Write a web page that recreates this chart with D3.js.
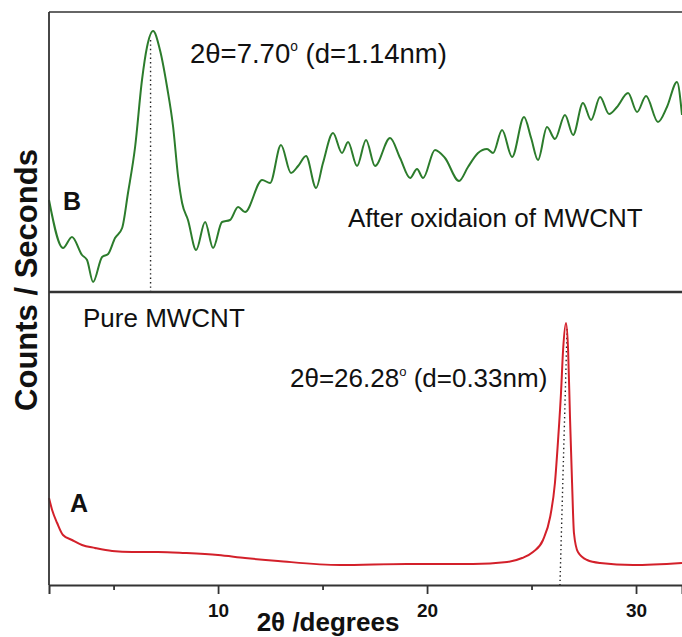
<!DOCTYPE html>
<html>
<head>
<meta charset="utf-8">
<script src="https://cdn.jsdelivr.net/npm/d3@7"></script>
<style>
  body { margin: 0; background: #fff; }
  text { font-family: "Liberation Sans", Arial, sans-serif; fill: #111; }
</style>
</head>
<body>
<div id="chart"></div>
<script>
// trace B : after oxidation (upper panel)
var thetaB = [1.91,2.58,3.01,3.49,3.73,4.02,4.45,4.74,5.07,5.41,5.69,6.03,6.36,6.60,6.89,7.22,7.56,7.85,8.09,8.28,
  8.56,8.95,9.38,9.76,10.19,10.57,10.96,11.29,12.11,12.49,13.01,13.49,13.83,14.21,14.69,15.02,15.50,15.93,16.22,16.65,
  17.08,17.51,18.23,18.71,19.19,19.52,19.81,20.38,20.86,21.53,21.96,22.44,22.87,23.16,23.59,24.07,24.64,24.98,25.31,25.74,
  26.12,26.60,26.99,27.46,27.85,28.28,28.71,29.09,29.62,30.05,30.48,31.05,31.48,31.96,32.2];
var countsB = [46,22,27.5,18.5,16,5,17.5,19,27,32,49.5,72.5,106,122.5,130.5,121,102.5,82.5,57.5,44.5,
  36,21,35,22,35,36,42.5,40,56,54.5,73.5,59.5,63,68,52,64.5,79.5,69.5,75,63,
  76,63,77,67,57,61.5,57,71,67,55.5,62.5,69.5,71.5,69.5,81,67.5,87.5,77,66,82.5,
  76.5,88.5,78.5,94.5,86,97.5,89,92.5,99.5,90,98,85,92.5,105,88.5];

// trace A : pure MWCNT (lower panel)
var thetaA = [1.91,2.06,2.30,2.58,3.01,3.49,4.11,4.93,5.89,7.13,8.42,10.0,11.29,12.87,15.84,19.04,22.20,23.83,24.55,25.07,
  25.55,25.89,26.12,26.27,26.41,26.51,26.65,26.75,26.84,26.94,27.03,27.22,27.66,28.28,29.86,32.2];
var countsA = [43.5,37.5,31,25,22.5,20,18.5,17,16.5,16.5,16,15,13.5,12,10,10.5,10.5,11.5,13.5,16.5,
  22.5,34,51,72.5,96,117.5,131,117.5,84,51,26,16.5,12.5,11,10,11];

// dotted peak markers
var dropBTheta = [6.77, 6.77], dropBCounts = [126, 0];
var dropATheta = [26.70, 26.36], dropACounts = [128, 0];

var majorTicks = [10, 20, 30];
var minorTicks = [5, 15, 25];

var width = 682, height = 637;
var plotLeft = 49, plotRight = 682, plotTop = 12, plotMid = 292, plotBottom = 585;

var svg = d3.select("#chart").append("svg")
  .attr("width", width)
  .attr("height", height);

/* Scales */
var x = d3.scaleLinear().domain([1.91, 32.2]).range([plotLeft, plotRight]);
var yB = d3.scaleLinear().domain([0, 140]).range([plotMid, plotTop]);
var yA = d3.scaleLinear().domain([0, 146.5]).range([plotBottom, plotMid]);

var lineB = d3.line()
  .x(function(d, i) { return x(thetaB[i]); })
  .y(function(d) { return yB(d); })
  .curve(d3.curveMonotoneX);

var lineA = d3.line()
  .x(function(d, i) { return x(thetaA[i]); })
  .y(function(d) { return yA(d); })
  .curve(d3.curveMonotoneX);

/* dotted lines */
svg.append("path")
  .attr("d", d3.line().x(function(d, i) { return x(dropBTheta[i]); }).y(function(d) { return yB(d); })(dropBCounts))
  .attr("fill", "none").attr("stroke", "#222").attr("stroke-width", 1.4)
  .attr("stroke-dasharray", "1.4,3");

svg.append("path")
  .attr("d", d3.line().x(function(d, i) { return x(dropATheta[i]); }).y(function(d) { return yA(d); })(dropACounts))
  .attr("fill", "none").attr("stroke", "#222").attr("stroke-width", 1.4)
  .attr("stroke-dasharray", "1.4,3");

/* traces */
svg.append("path")
  .attr("d", lineB(countsB))
  .attr("fill", "none")
  .attr("stroke", "#2c7c2c")
  .attr("stroke-width", 2);

svg.append("path")
  .attr("d", lineA(countsA))
  .attr("fill", "none")
  .attr("stroke", "#d3202a")
  .attr("stroke-width", 2);

/* frame */
var frame = svg.append("g").attr("stroke", "#333").attr("fill", "none");
frame.append("line").attr("x1", plotLeft).attr("x2", plotRight).attr("y1", plotTop).attr("y2", plotTop).attr("stroke-width", 1.6);
frame.append("line").attr("x1", plotLeft).attr("x2", plotRight).attr("y1", plotMid).attr("y2", plotMid).attr("stroke-width", 2.6);
frame.append("line").attr("x1", plotLeft).attr("x2", plotLeft).attr("y1", plotTop).attr("y2", plotBottom).attr("stroke-width", 1.8);

/* x axis */
var xAxis = d3.axisBottom(x).tickValues(majorTicks).tickSize(9).tickPadding(10).tickFormat(d3.format("d"));
var xMinor = d3.axisBottom(x).tickValues(minorTicks).tickSize(5).tickFormat("");

var gx = svg.append("g").attr("transform", "translate(0," + plotBottom + ")").call(xAxis);
svg.append("g").attr("transform", "translate(0," + plotBottom + ")").call(xMinor)
  .select(".domain").remove();
gx.select(".domain").attr("stroke", "#333").attr("stroke-width", 2);
svg.selectAll(".tick line").attr("stroke", "#333").attr("stroke-width", 1.8);
gx.selectAll(".tick text")
  .style("font-family", "'Liberation Sans', Arial, sans-serif")
  .style("font-weight", "bold")
  .style("font-size", "19px")
  .attr("fill", "#111");

svg.append("text")
  .attr("x", 328).attr("y", 631)
  .attr("text-anchor", "middle")
  .style("font-weight", "bold").style("font-size", "26px")
  .text("2θ /degrees");

svg.append("text")
  .attr("transform", "translate(37,280) rotate(-90)")
  .attr("text-anchor", "middle")
  .style("font-weight", "bold").style("font-size", "31px")
  .text("Counts / Seconds");

/* annotations */
function degLabel(px, py, size, angle, d) {
  var t = svg.append("text").attr("x", px).attr("y", py).style("font-size", size + "px");
  t.append("tspan").text("2θ=" + angle);
  t.append("tspan").attr("dy", -size * 0.42).style("font-size", (size * 0.5) + "px").text("o");
  t.append("tspan").attr("dy", size * 0.42).text(" (d=" + d + "nm)");
}
degLabel(190, 63, 27.5, "7.70", "1.14");
degLabel(290, 387, 26, "26.28", "0.33");

svg.append("text").attr("x", 63).attr("y", 210)
  .style("font-weight", "bold").style("font-size", "25px").text("B");
svg.append("text").attr("x", 70).attr("y", 512)
  .style("font-weight", "bold").style("font-size", "25px").text("A");

svg.append("text").attr("x", 348).attr("y", 227)
  .style("font-size", "26px").text("After oxidaion of MWCNT");
svg.append("text").attr("x", 83).attr("y", 327)
  .style("font-size", "26px").text("Pure MWCNT");
</script>
</body>
</html>
